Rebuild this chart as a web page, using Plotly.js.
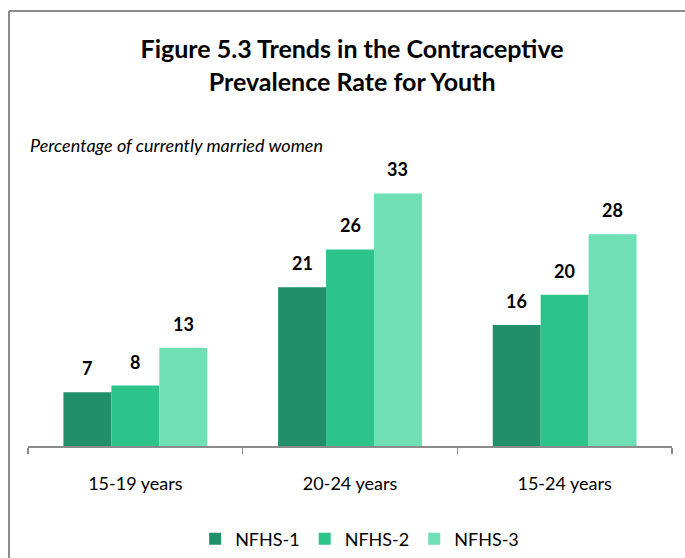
<!DOCTYPE html>
<html>
<head>
<meta charset="utf-8">
<script src="https://cdn.plot.ly/plotly-3.0.1.min.js"></script>
<style>html,body{margin:0;padding:0;background:#fff;overflow:hidden}</style>
</head>
<body>
<div id="chart" style="width:685px;height:558px"></div>
<script>
var categories = ["15-19 years", "20-24 years", "15-24 years"];
var seriesNames = ["NFHS-1", "NFHS-2", "NFHS-3"];
var nfhs1 = [7.1, 21.0, 16.0];
var nfhs2 = [8.0, 26.0, 20.0];
var nfhs3 = [13.0, 33.4, 28.0];
var colors = ["#21906A", "#2DC48B", "#6FDFB5"];

var FONT = "Lato, 'Open Sans', sans-serif";
var bargap = 0.33;
var allSeries = [nfhs1, nfhs2, nfhs3];

var traces = allSeries.map(function (vals, i) {
  return {
    type: "bar",
    name: seriesNames[i],
    x: categories,
    y: vals,
    marker: {color: colors[i]},
    hoverinfo: "y"
  };
});

var annotations = [];
var w = (1 - bargap) / 3;
allSeries.forEach(function (vals, i) {
  vals.forEach(function (v, j) {
    annotations.push({
      x: j + (i - 1) * w, y: v, xref: "x", yref: "y",
      text: "<b>" + Math.round(v) + "</b>",
      showarrow: false, yanchor: "bottom", yshift: 11,
      font: {family: FONT, size: 18, color: "#000"}
    });
  });
});
annotations.push({
  xref: "paper", yref: "paper", x: 0.0, y: 1.017,
  xanchor: "left", yanchor: "middle", showarrow: false,
  text: "<i>Percentage of currently married women</i>",
  font: {family: FONT, size: 18, color: "#000"}
});

var layout = {
  width: 685, height: 558,
  margin: {l: 28, r: 13, t: 150, b: 112},
  paper_bgcolor: "#fff", plot_bgcolor: "#fff",
  title: {
    text: "<b>Figure 5.3 Trends in the Contraceptive<br>Prevalence Rate for Youth</b>",
    x: 0.514, xref: "container", xanchor: "center",
    y: 0.896, yref: "container", yanchor: "middle",
    font: {family: FONT, size: 25, color: "#000"}
  },
  barmode: "group", bargap: bargap, bargroupgap: 0,
  xaxis: {
    type: "category",
    showline: true, linecolor: "#8a8a8a", linewidth: 1.5,
    ticks: "outside", tickson: "boundaries", ticklen: 6, tickcolor: "#8a8a8a", tickwidth: 1.5,
    ticklabelstandoff: 21,
    tickfont: {family: FONT, size: 18, color: "#000"},
    showgrid: false, zeroline: false, fixedrange: true, automargin: false
  },
  yaxis: {
    range: [0, 39.15], visible: false, showgrid: false, zeroline: false, fixedrange: true
  },
  showlegend: true,
  legend: {
    orientation: "h", x: 0.525, xref: "container", xanchor: "center",
    y: 0.034, yref: "container", yanchor: "middle",
    font: {family: FONT, size: 18, color: "#000"},
    itemwidth: 30, traceorder: "normal", bgcolor: "rgba(0,0,0,0)"
  },
  annotations: annotations,
  shapes: [
    {type: "line", xref: "paper", yref: "paper", x0: -0.0295, x1: -0.0295, y0: -0.5, y1: 1.4696,
     line: {color: "#8c8c8c", width: 2}},
    {type: "line", xref: "paper", yref: "paper", x0: -0.0295, x1: 1.1, y0: 1.4696, y1: 1.4696,
     line: {color: "#8c8c8c", width: 2}}
  ]
};

Plotly.newPlot("chart", traces, layout, {displayModeBar: false, staticPlot: true});
</script>
</body>
</html>
